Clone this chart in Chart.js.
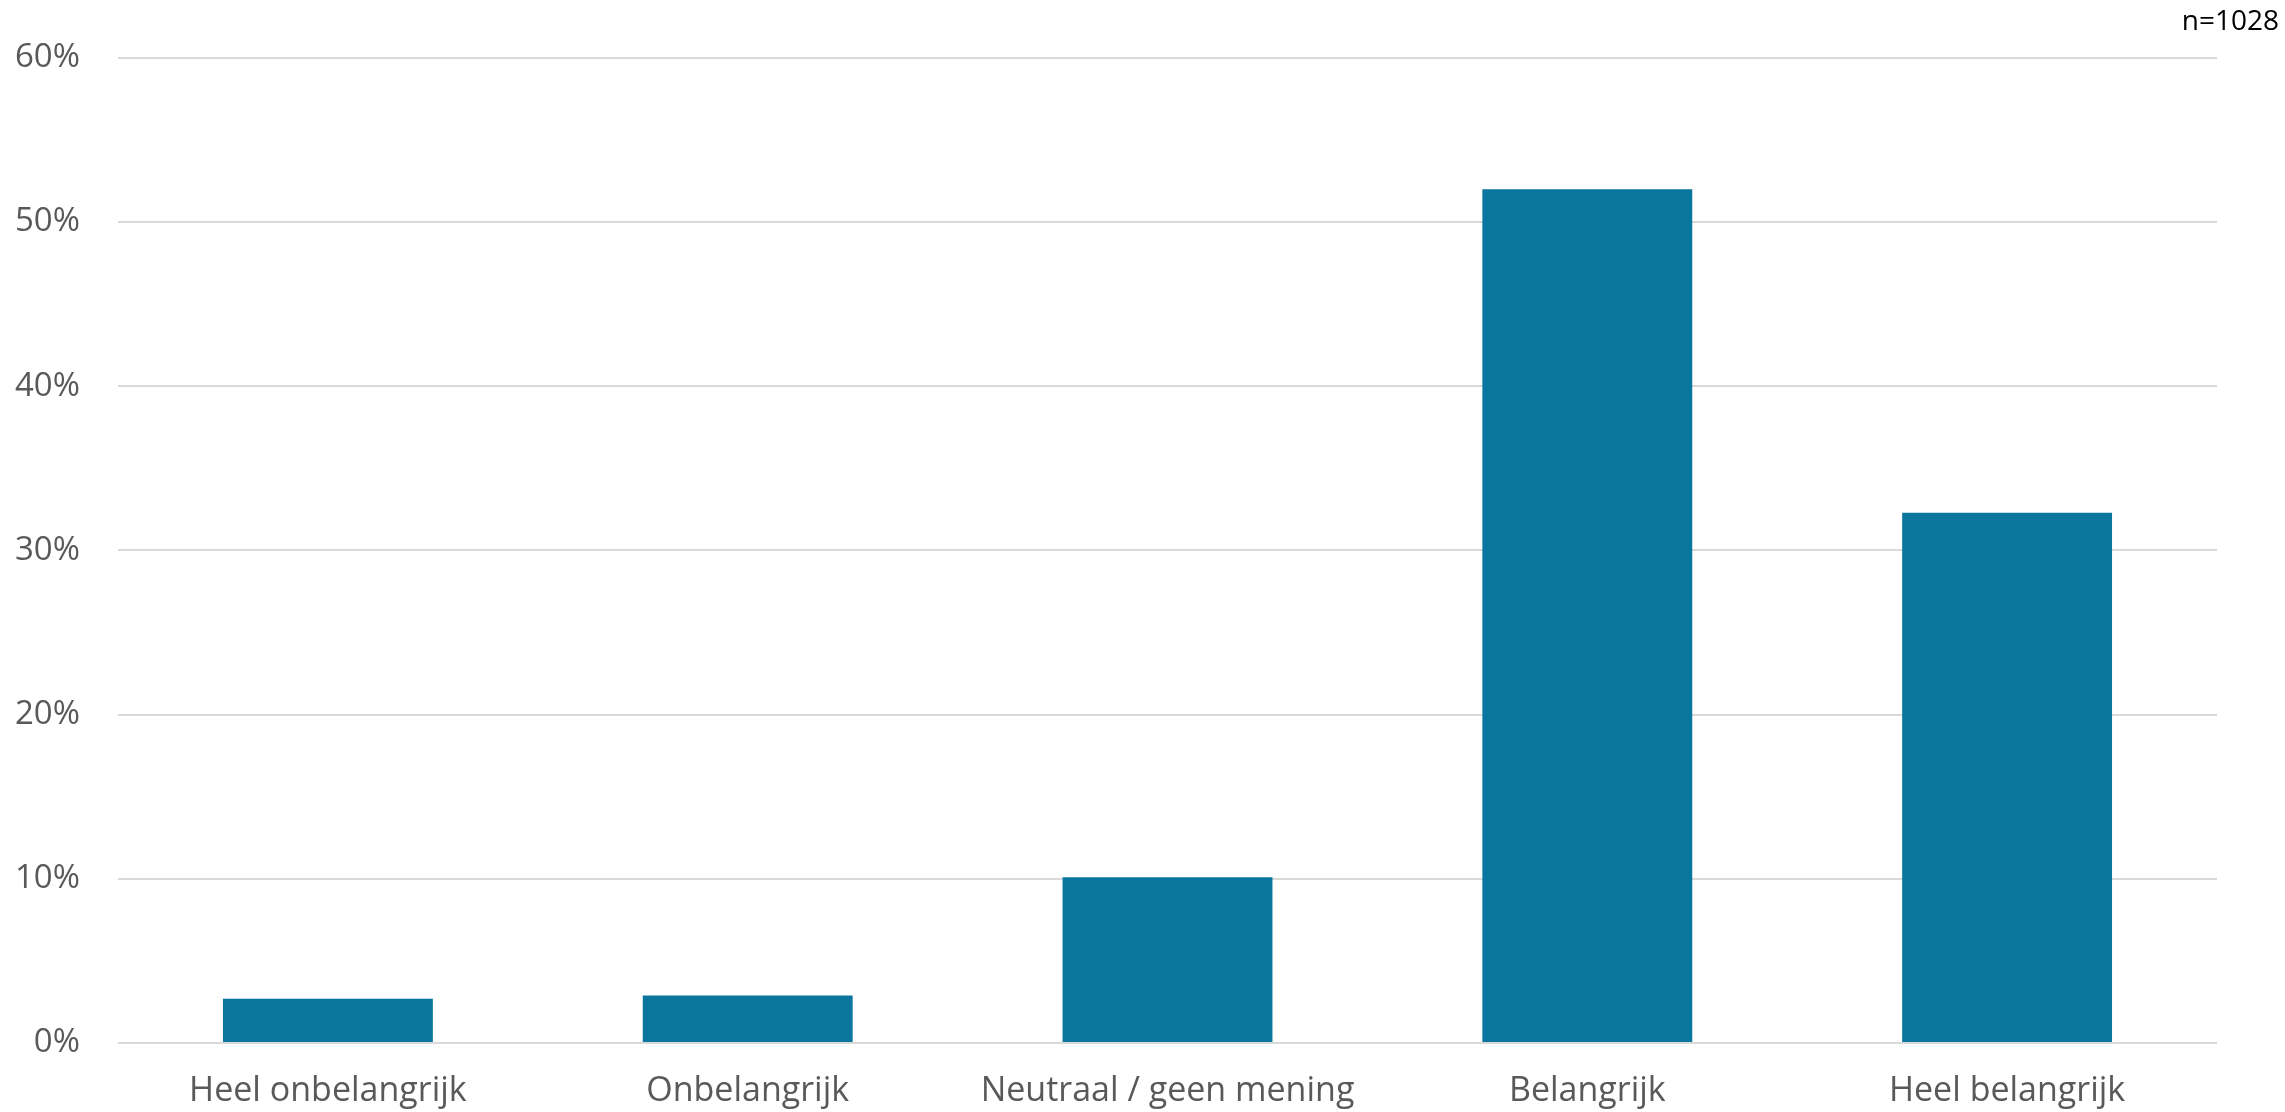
<!DOCTYPE html>
<html>
<head>
<meta charset="utf-8">
<script src="https://cdn.jsdelivr.net/npm/chart.js@4/dist/chart.umd.min.js"></script>
<style>
  html, body { margin: 0; padding: 0; background: #fff; }
  #wrap { width: 2285px; height: 1112px; }
</style>
</head>
<body>
<div id="wrap"><canvas id="importanceChart" width="2285" height="1112"></canvas></div>
<script>
// categories and values (% of respondents)
const categories = ['Heel onbelangrijk', 'Onbelangrijk', 'Neutraal / geen mening', 'Belangrijk', 'Heel belangrijk'];
const shares = [2.7, 2.9, 10.1, 52.0, 32.3];
const yTicks = [0, 10, 20, 30, 40, 50, 60];
const sampleNote = 'n=1028';

// draws the n= note in the top right corner
const notePlugin = {
  id: 'note',
  afterDraw(chart) {
    const c = chart.ctx;
    c.save();
    c.font = '28px "Open Sans"';
    c.fillStyle = '#000000';
    c.textAlign = 'right';
    c.textBaseline = 'middle';
    c.fillText(sampleNote, 2279, 22);
    c.restore();
  }
};

const ctx = document.getElementById('importanceChart');
new Chart(ctx, {
  type: 'bar',
  data: {
    labels: categories,
    datasets: [{
      data: shares,
      backgroundColor: '#0a759d',
      borderWidth: 0,
      categoryPercentage: 1,
      barPercentage: 0.5
    }]
  },
  options: {
    responsive: false,
    animation: false,
    layout: { padding: { top: 55, right: 68, bottom: 0, left: 0 } },
    plugins: {
      legend: { display: false },
      tooltip: { enabled: false }
    },
    scales: {
      x: {
        grid: { display: false },
        border: { display: false },
        ticks: {
          color: '#595959',
          font: { family: 'Open Sans', size: 34 },
          padding: 20,
          maxRotation: 0
        },
        afterFit(scale) { scale.height = 69; }
      },
      y: {
        min: 0,
        max: 60,
        afterBuildTicks(scale) { scale.ticks = yTicks.map(v => ({ value: v })); },
        grid: { color: '#d9d9d9', lineWidth: 2, drawTicks: false },
        border: { display: false },
        ticks: {
          color: '#595959',
          font: { family: 'Open Sans', size: 33 },
          padding: 38,
          callback: v => v + '%'
        },
        afterFit(scale) { scale.width = 118; }
      }
    }
  },
  plugins: [notePlugin]
});
</script>
</body>
</html>
